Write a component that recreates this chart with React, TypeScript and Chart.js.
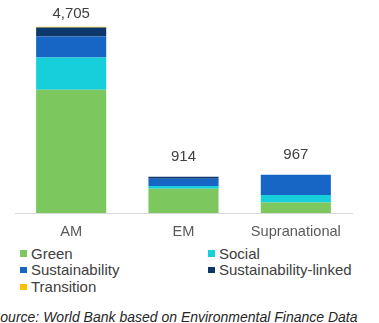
import React, { useEffect, useRef } from "react";
import { Chart, registerables } from "chart.js";

Chart.register(...registerables);

const categories = ["AM", "EM", "Supranational"];
const seriesNames = ["Green", "Social", "Sustainability", "Sustainability-linked", "Transition"];
const green = [3115, 611, 262];
const social = [810, 70, 195];
const sustainability = [530, 185, 507];
const sustainabilityLinked = [230, 48, 0];
const transition = [20, 0, 3];
const totals = [4705, 914, 967];
const totalLabels = ["4,705", "914", "967"];
const colors = ["#7CC85F", "#17CFDA", "#1766C6", "#0D386B", "#FFC000"];
const sourceText = "Source: World Bank based on Environmental Finance Data";

const FONT = "'Liberation Sans', Arial, sans-serif";

const totalsPlugin = {
  id: "totals",
  afterDatasetsDraw(chart: any) {
    const { ctx } = chart;
    const y = chart.scales.y;
    const x = chart.scales.x;
    ctx.save();
    ctx.fillStyle = "#404040";
    ctx.font = `15px ${FONT}`;
    ctx.textAlign = "center";
    ctx.textBaseline = "middle";
    totals.forEach((t, i) => {
      const top = y.getPixelForValue(t);
      ctx.fillText(totalLabels[i], x.getPixelForValue(i), Math.max(top - 20, 13.5));
    });
    ctx.restore();
  },
};

export default function App() {
  const ref = useRef<HTMLCanvasElement>(null);
  useEffect(() => {
    const series = [green, social, sustainability, sustainabilityLinked, transition];
    const chart = new Chart(ref.current!, {
      type: "bar",
      data: {
        labels: categories,
        datasets: series.map((d, i) => ({
          label: seriesNames[i],
          data: d,
          backgroundColor: colors[i],
          borderWidth: 0,
          barPercentage: 0.78,
          categoryPercentage: 0.8,
        })),
      },
      options: {
        animation: false,
        responsive: false,
        maintainAspectRatio: false,
        layout: { padding: { top: 15, left: 15, right: 27, bottom: 0 } },
        plugins: { legend: { display: false }, tooltip: { enabled: false } },
        scales: {
          x: {
            stacked: true,
            grid: { display: false, drawTicks: false },
            border: { display: true, color: "#D9D9D9", width: 1 },
            ticks: { color: "#595959", font: { size: 14.6, family: FONT }, padding: 10, maxRotation: 0 },
            afterFit: (scale: any) => {
              scale.height = 27;
            },
          },
          y: { stacked: true, display: false, min: 0, max: 5000 },
        },
      },
      plugins: [totalsPlugin],
    });
    return () => chart.destroy();
  }, []);

  const legendPos = [
    { left: 20, top: 244.5 },
    { left: 208, top: 244.5 },
    { left: 20, top: 261.2 },
    { left: 208, top: 261.2 },
    { left: 20, top: 278 },
  ];

  return (
    <div style={{ position: "fixed", left: 0, top: 0, width: 379, height: 323, overflow: "hidden", background: "#fff", fontFamily: FONT }}>
      <canvas ref={ref} width={379} height={240} style={{ position: "absolute", left: 0, top: 0, width: 379, height: 240 }} />
      {seriesNames.map((n, i) => (
        <div key={n} style={{ position: "absolute", left: legendPos[i].left, top: legendPos[i].top, height: 17, lineHeight: "17px", fontSize: 15, color: "#404040", whiteSpace: "nowrap" }}>
          <span style={{ position: "absolute", left: 0, top: 5.5, width: 6.5, height: 6.5, background: colors[i] }} />
          <span style={{ position: "absolute", left: 11, top: 0 }}>{n}</span>
        </div>
      ))}
      <div style={{ position: "absolute", left: -9, top: 309, lineHeight: "16px", fontSize: 14, fontStyle: "italic", color: "#262626", whiteSpace: "nowrap" }}>
        {sourceText}
      </div>
    </div>
  );
}
